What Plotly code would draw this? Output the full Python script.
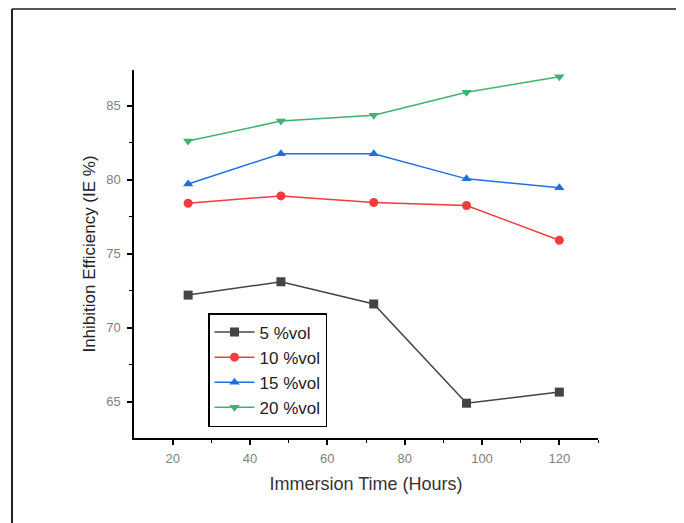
import plotly.graph_objects as go

hours = [24, 48, 72, 96, 120]
ie_5 = [72.2, 73.1, 71.6, 64.9, 65.65]
ie_10 = [78.4, 78.9, 78.45, 78.25, 75.9]
ie_15 = [79.7, 81.75, 81.75, 80.05, 79.45]
ie_20 = [82.6, 83.95, 84.35, 85.9, 86.95]
series_names = ["5 %vol", "10 %vol", "15 %vol", "20 %vol"]
x_ticks = [20, 40, 60, 80, 100, 120]
y_ticks = [65, 70, 75, 80, 85]

colors = ["#444444", "#f03c3c", "#1f6fe0", "#3cb371"]
symbols = ["square", "circle", "triangle-up", "triangle-down"]

fig = go.Figure()
for name, vals, c, s in zip(series_names, [ie_5, ie_10, ie_15, ie_20], colors, symbols):
    fig.add_trace(go.Scatter(
        x=hours, y=vals, name=name, mode="lines+markers",
        line=dict(color=c, width=1.5),
        marker=dict(symbol=s, size=9, color=c),
    ))

# page body has an 8px margin; compensate so the visible picture lines up
OFF = 8
W, H = 684, 523
pw, ph = 464, 368
l, t = 134 - OFF, 70 - OFF
r, b = W - l - pw, H - t - ph

def px_x(x):
    return (x - OFF - l) / pw

def px_y(y):
    return 1 - (y - OFF - t) / ph

fig.update_layout(
    width=W, height=H,
    margin=dict(l=l, r=r, t=t, b=b),
    paper_bgcolor="white", plot_bgcolor="white",
    font=dict(family="Liberation Sans, Arial, sans-serif", color="#222222"),
    showlegend=True,
    legend=dict(
        x=px_x(208), y=px_y(313), xanchor="left", yanchor="top",
        bgcolor="white", bordercolor="black", borderwidth=1.5,
        font=dict(size=17, color="#222222"),
        itemwidth=40, tracegroupgap=0,
    ),
    shapes=[
        dict(type="line", xref="paper", yref="paper",
             x0=px_x(12), x1=px_x(W + 20),
             y0=px_y(9), y1=px_y(9),
             line=dict(color="#555555", width=2)),
        dict(type="line", xref="paper", yref="paper",
             x0=px_x(12), x1=px_x(12),
             y0=px_y(9), y1=px_y(H + 20),
             line=dict(color="#222222", width=2)),
    ],
)

fig.update_xaxes(
    range=[10, 130], tickvals=x_ticks, ticktext=[str(v) for v in x_ticks],
    showgrid=False, zeroline=False,
    showline=True, linecolor="black", linewidth=1.5,
    ticks="outside", ticklen=5, tickwidth=1.5, tickcolor="black",
    minor=dict(tickvals=[30, 50, 70, 90, 110, 130], ticks="outside", ticklen=3, tickcolor="black", tickwidth=1.2),
    tickfont=dict(size=13, color="#808080"), ticklabelstandoff=3,
    title=dict(text="Immersion Time (Hours)", font=dict(size=18, color="#333333"), standoff=12),
)
fig.update_yaxes(
    range=[62.55, 87.4], tickvals=y_ticks, ticktext=[str(v) for v in y_ticks],
    showgrid=False, zeroline=False,
    showline=True, linecolor="black", linewidth=1.5,
    ticks="outside", ticklen=5, tickwidth=1.5, tickcolor="black",
    minor=dict(tickvals=[62.5, 67.5, 72.5, 77.5, 82.5, 87.5], ticks="outside", ticklen=3, tickcolor="black", tickwidth=1.2),
    tickfont=dict(size=13, color="#808080"), ticklabelstandoff=4,
    title=dict(text="Inhibition Efficiency (IE %)", font=dict(size=17, color="#222222"), standoff=6),
)

fig.write_html("out.html")
